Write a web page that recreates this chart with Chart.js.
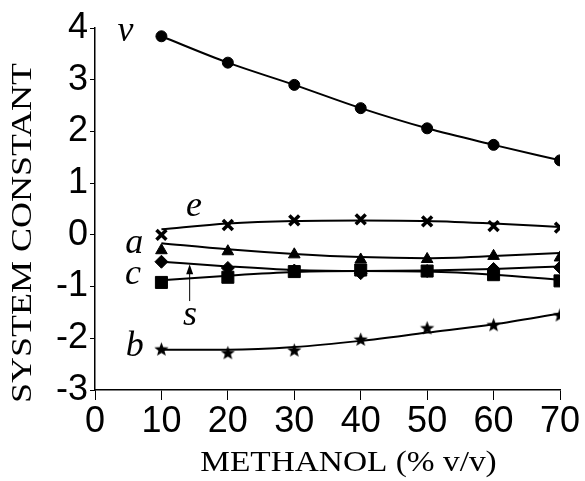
<!DOCTYPE html>
<html>
<head>
<meta charset="utf-8">
<script src="https://cdn.jsdelivr.net/npm/chart.js@4.4.1/dist/chart.umd.min.js"></script>
<style>
  html, body { margin: 0; padding: 0; background: #fff; }
  #wrap { width: 585px; height: 481px; }
</style>
</head>
<body>
<div id="wrap"><canvas id="c" width="585" height="481"></canvas></div>
<script>
// ---- data ----
const methanol = [10, 20, 30, 40, 50, 60, 70];
const vVals = [3.84, 3.33, 2.90, 2.45, 2.06, 1.74, 1.44];
const eVals = [0.00, 0.19, 0.28, 0.30, 0.26, 0.17, 0.14];
const aVals = [-0.30, -0.32, -0.38, -0.48, -0.47, -0.41, -0.44];
const sVals = [-0.52, -0.64, -0.69, -0.74, -0.70, -0.66, -0.63];
const cVals = [-0.92, -0.82, -0.71, -0.68, -0.70, -0.77, -0.89];
const bVals = [-2.21, -2.28, -2.23, -2.02, -1.80, -1.74, -1.55];
// fitted curves
const vFit = [3.84, 3.33, 2.90, 2.45, 2.06, 1.74, 1.44];
const eFit = [0.11, 0.22, 0.27, 0.28, 0.27, 0.22, 0.15];
const aFit = [-0.16, -0.28, -0.37, -0.43, -0.45, -0.41, -0.35];
const sFit = [-0.52, -0.61, -0.68, -0.70, -0.69, -0.66, -0.61];
const cFit = [-0.88, -0.79, -0.72, -0.70, -0.71, -0.77, -0.87];
const bFit = [-2.22, -2.22, -2.17, -2.05, -1.89, -1.73, -1.52];
const xTicks = [0, 10, 20, 30, 40, 50, 60, 70];
const yTicks = [-3, -2, -1, 0, 1, 2, 3, 4];
const xTitle = 'METHANOL (% v/v)';
const yTitle = 'SYSTEM CONSTANT';
// curve labels (letter, x value, y value at baseline)
const labelNames = ['v', 'e', 'a', 'c', 's', 'b'];
const labelX = [4.6, 14.9, 5.9, 5.7, 14.3, 6.0];
const labelY = [3.75, 0.37, -0.35, -0.95, -1.75, -2.34];
// arrow for s: x, y from, y to
const arrowX = 14.25, arrowFrom = -1.28, arrowTo = -0.57;

const pts = ys => methanol.map((x, i) => ({ x: x, y: ys[i] }));

function makeStar(r) {
  const s = Math.ceil(r * 2 + 2);
  const c = document.createElement('canvas');
  c.width = s; c.height = s;
  const g = c.getContext('2d');
  g.fillStyle = '#000';
  g.beginPath();
  for (let i = 0; i < 10; i++) {
    const rad = i % 2 ? r * 0.42 : r;
    const ang = -Math.PI / 2 + i * Math.PI / 5;
    g.lineTo(s / 2 + rad * Math.cos(ang), s / 2 + 0.5 + rad * Math.sin(ang));
  }
  g.closePath();
  g.fill();
  return c;
}
const star = makeStar(7.5);

function markers(ys, style, radius, extra) {
  return Object.assign({
    data: pts(ys), showLine: false, pointStyle: style, pointRadius: radius,
    pointBackgroundColor: '#000', pointBorderColor: '#000', pointBorderWidth: 1,
    borderColor: '#000', backgroundColor: '#000'
  }, extra || {});
}
function fitLine(ys) {
  return {
    data: pts(ys), showLine: true, pointRadius: 0, borderColor: '#000',
    borderWidth: 2, tension: 0.4, cubicInterpolationMode: 'monotone', fill: false
  };
}

const annotPlugin = {
  id: 'annot',
  afterDraw(chart) {
    const ctx = chart.ctx;
    const xs = chart.scales.x, ys = chart.scales.y;
    const ca = chart.chartArea;
    ctx.save();
    ctx.fillStyle = '#000';
    ctx.strokeStyle = '#000';
    // curve letters
    ctx.font = 'italic 36px "Liberation Serif"';
    ctx.textAlign = 'center';
    ctx.textBaseline = 'alphabetic';
    labelNames.forEach((t, i) => {
      ctx.fillText(t, xs.getPixelForValue(labelX[i]), ys.getPixelForValue(labelY[i]));
    });
    // arrow
    const ax = xs.getPixelForValue(arrowX);
    const y0 = ys.getPixelForValue(arrowFrom), y1 = ys.getPixelForValue(arrowTo);
    ctx.lineWidth = 1;
    ctx.beginPath(); ctx.moveTo(ax, y0); ctx.lineTo(ax, y1 + 8); ctx.stroke();
    ctx.beginPath(); ctx.moveTo(ax, y1); ctx.lineTo(ax - 3.5, y1 + 10); ctx.lineTo(ax + 3.5, y1 + 10); ctx.closePath(); ctx.fill();
    // axis titles
    ctx.font = '29px "Liberation Serif"';
    ctx.textBaseline = 'middle';
    ctx.save();
    ctx.translate((ca.left + ca.right) / 2 + 21, 463);
    ctx.scale(1.15, 1);
    ctx.fillText(xTitle, 0, 0);
    ctx.restore();
    ctx.save();
    ctx.translate(23, 233);
    ctx.rotate(-Math.PI / 2);
    ctx.scale(1.24, 1);
    ctx.fillText(yTitle, 0, 0);
    ctx.restore();
    ctx.restore();
  }
};

new Chart(document.getElementById('c'), {
  type: 'line',
  data: {
    datasets: [
      markers(vVals, 'circle', 5.5),
      markers(eVals, 'crossRot', 7, { pointBorderWidth: 3.5 }),
      markers(aVals, 'triangle', 6.7),
      markers(sVals, 'rectRot', 6.5),
      markers(cVals, 'rect', 8.5),
      markers(bVals, star, 7),
      fitLine(vFit), fitLine(eFit), fitLine(aFit), fitLine(sFit), fitLine(cFit), fitLine(bFit)
    ]
  },
  options: {
    responsive: false,
    animation: false,
    events: [],
    layout: { padding: { top: 28, right: 25, left: 0, bottom: 0 } },
    plugins: { legend: { display: false }, tooltip: { enabled: false } },
    scales: {
      x: {
        type: 'linear', min: 0, max: 70,
        afterBuildTicks: s => { s.ticks = xTicks.map(v => ({ value: v })); },
        afterFit: s => { s.height = 91; },
        grid: { drawOnChartArea: false, drawTicks: true, tickLength: 10, color: '#000', lineWidth: 1 },
        border: { display: true, color: '#000', width: 1.5 },
        ticks: { color: '#000', font: { family: '"Liberation Sans"', size: 36 }, padding: 0, maxRotation: 0 }
      },
      y: {
        type: 'linear', min: -3, max: 4,
        afterBuildTicks: s => { s.ticks = yTicks.map(v => ({ value: v })); },
        afterFit: s => { s.width = 95; },
        grid: { drawOnChartArea: false, drawTicks: true, tickLength: 5, color: '#000', lineWidth: 1 },
        border: { display: true, color: '#000', width: 1.5 },
        ticks: { color: '#000', font: { family: '"Liberation Sans"', size: 36 }, padding: 2 }
      }
    }
  },
  plugins: [annotPlugin]
});
</script>
</body>
</html>
